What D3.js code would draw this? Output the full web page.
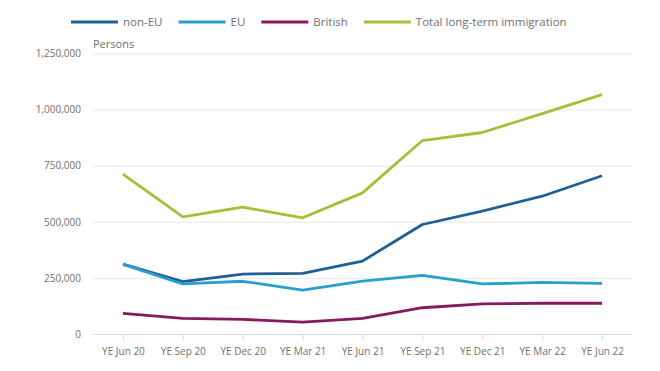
<!DOCTYPE html>
<html>
<head>
<meta charset="utf-8">
<script src="https://cdn.jsdelivr.net/npm/d3@7"></script>
<style>
  body { margin: 0; background: #fff; }
  svg { display: block; font-family: "Open Sans", sans-serif; }
</style>
</head>
<body>
<div id="chart"></div>
<script>
const width = 660;
const height = 371;

// data
const periods = ["YE Jun 20", "YE Sep 20", "YE Dec 20", "YE Mar 21", "YE Jun 21",
                 "YE Sep 21", "YE Dec 21", "YE Mar 22", "YE Jun 22"];
const nonEU   = [312000, 233000, 267000, 270000, 325000, 488000, 548000, 614000, 705000];
const eu      = [310000, 223000, 235000, 196000, 236000, 261000, 223000, 230000, 226000];
const british = [92000, 70000, 65000, 53000, 70000, 117000, 134000, 137000, 137000];
const total   = [712000, 522000, 565000, 518000, 629000, 862000, 898000, 982000, 1067000];
const yTicks  = [0, 250000, 500000, 750000, 1000000, 1250000];

const series = [
    { name: "non-EU", values: nonEU, color: "#206095" },
    { name: "EU", values: eu, color: "#27a0cc" },
    { name: "British", values: british, color: "#871a5b" },
    { name: "Total long-term immigration", values: total, color: "#a8bd3a" }
];

const plotLeft = 93, plotRight = 632, plotTop = 53.5, plotBottom = 334;

const x = d3.scalePoint().domain(periods).range([plotLeft, plotRight]).padding(0.5);
const y = d3.scaleLinear().domain([0, 1250000]).range([plotBottom, plotTop]);

const svg = d3.select("#chart")
    .append("svg")
    .attr("width", width)
    .attr("height", height);

// gridlines + y labels
const yAxis = svg.append("g")
    .attr("transform", `translate(${plotLeft},0)`)
    .call(d3.axisLeft(y).tickValues(yTicks).tickSize(-(plotRight - plotLeft)).tickPadding(12)
        .tickFormat(d3.format(",")));
yAxis.select(".domain").remove();
yAxis.selectAll(".tick line").attr("stroke", "#e9e9e9").attr("stroke-width", 1);
yAxis.selectAll(".tick text")
    .attr("fill", "#707070")
    .style("font-size", "10px")
    .style("font-family", "'Open Sans', sans-serif");
yAxis.selectAll(".tick").filter(d => d === 0).select("line").attr("stroke", "#d9d9d9");

// x axis
const xAxis = svg.append("g")
    .attr("transform", `translate(0,${plotBottom})`)
    .call(d3.axisBottom(x).tickSize(6).tickPadding(8));
xAxis.select(".domain").remove();
xAxis.selectAll(".tick line").attr("stroke", "#d9d9d9");
xAxis.selectAll(".tick text")
    .attr("fill", "#707070")
    .style("font-size", "10px")
    .style("font-family", "'Open Sans', sans-serif");

svg.append("text")
    .attr("x", plotLeft)
    .attr("y", 48)
    .attr("fill", "#707070")
    .style("font-size", "11px")
    .text("Persons");

// lines
const line = d3.line()
    .x((d, i) => x(periods[i]))
    .y(d => y(d));

svg.append("g")
    .selectAll("path")
    .data(series)
    .join("path")
    .attr("fill", "none")
    .attr("stroke", d => d.color)
    .attr("stroke-width", 2.8)
    .attr("stroke-linejoin", "round")
    .attr("d", d => line(d.values));

// legend
const legend = svg.append("g").attr("transform", "translate(0,22)");
let lx = 71;
series.forEach(s => {
    legend.append("line")
        .attr("x1", lx).attr("x2", lx + 47)
        .attr("stroke", s.color)
        .attr("stroke-width", 3);
    const t = legend.append("text")
        .attr("x", lx + 52)
        .attr("dy", "0.35em")
        .attr("fill", "#707070")
        .style("font-size", "11.5px")
        .text(s.name);
    lx += 52 + t.node().getComputedTextLength() + 16;
});
</script>
</body>
</html>
